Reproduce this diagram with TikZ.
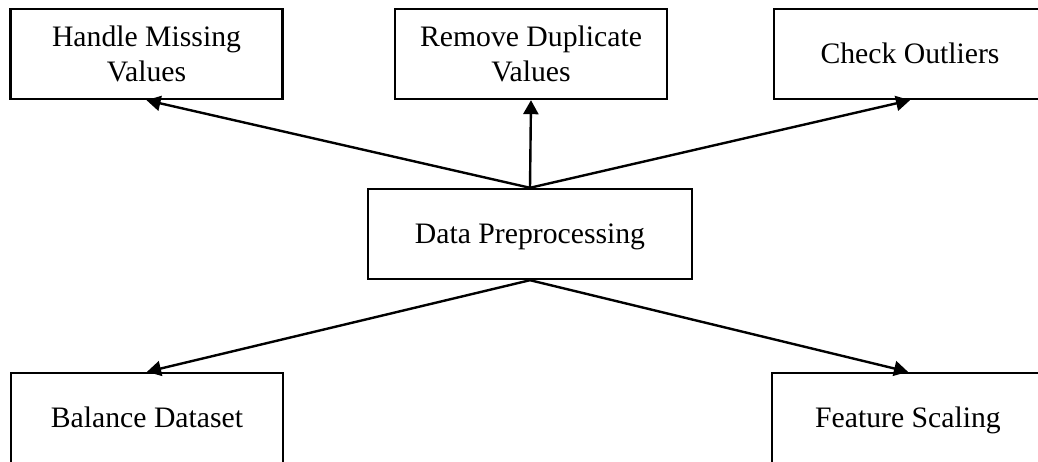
\documentclass[tikz,border=0pt]{standalone}
\usepackage{fontspec}
\setmainfont{Liberation Serif}
\usepackage{tikz}
\usetikzlibrary{
    arrows.meta,
    positioning
}

\begin{document}
\begin{tikzpicture}[
        x=1pt, y=-1pt,
        >={Triangle[length=14pt,width=15pt]},
        box/.style={
            rectangle,
            draw,
            line width=2.4pt,
            minimum width=272pt,
            minimum height=90pt,
            align=center,
            font=\fontsize{29.7}{34.5}\selectfont
        },
        oneline/.style={
            text height=19.7pt,
            text depth=0pt
        },
        link/.style={
            ->,
            line width=2.4pt
        }
    ]
        \useasboundingbox (0,0) rectangle (1038,462);
        \node[box] (HM) at (146.5,54) {Handle Missing\\Values};
        \node[box] (RD) at (531,54) {Remove Duplicate\\Values};
        \node[box, oneline] (CO) at (910,54) {Check Outliers};
        \node[box, oneline, minimum width=324pt] (DP) at (530,234) {Data Preprocessing};
        \node[box, oneline] (BD) at (147,418) {Balance Dataset};
        \node[box, oneline] (FS) at (908,418) {Feature Scaling};
        \draw[link] (DP.north) -- (HM.south);
        \draw[link] (DP.north) -- (RD.south);
        \draw[link] (DP.north) -- (CO.south);
        \draw[link] (DP.south) -- (BD.north);
        \draw[link] (DP.south) -- (FS.north);
    \end{tikzpicture}
\end{document}
